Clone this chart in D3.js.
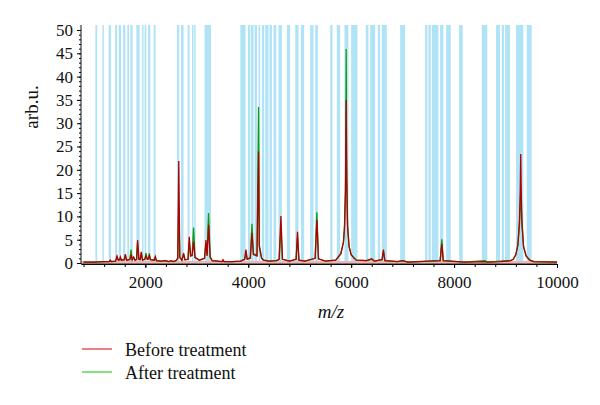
<!DOCTYPE html>
<html>
<head>
<meta charset="utf-8">
<script src="https://cdn.jsdelivr.net/npm/d3@7"></script>
<style>
  html, body { margin: 0; padding: 0; background: #fff; }
  svg { display: block; }
  svg text { font-family: "Liberation Serif", "DejaVu Serif", serif !important; fill: #111; }
</style>
</head>
<body>
<svg id="chart" width="600" height="405" font-family="Liberation Serif, serif"></svg>
<script>
// ---- data ----
const seriesNames = ["Before treatment", "After treatment"];

// light-blue marked m/z windows [start, end]
const bandStart = [1030,1165,1287,1412,1482,1567,1650,1709,1825,1936,1986,2052,2161,2615,2693,2821,2907,2950,3151,3845,3994,4052,4122,4200,4266,4330,4414,4491,4588,4751,4913,5023,5204,5301,5592,5722,5870,6000,6285,6369,6518,6596,6951,7437,7501,7567,7728,7845,8097,8538,8815,8926,8990,9204,9411];
const bandEnd   = [1065,1190,1334,1450,1528,1612,1683,1753,1889,1955,2019,2097,2200,2660,2744,2860,2935,2977,3276,3948,4039,4103,4169,4233,4311,4394,4460,4544,4654,4815,4977,5087,5268,5353,5637,5786,5947,6122,6336,6466,6563,6693,7048,7481,7547,7695,7792,7936,8169,8646,8893,8970,9087,9345,9508];

// spectrum sample points
const mz = [800,1000,1200,1300,1320,1340,1420,1450,1475,1500,1515,1535,1590,1612,1635,1700,1722,1745,1773,1800,1830,1850,1875,1900,1922,1945,1990,2013,2040,2060,2078,2100,2170,2194,2215,2300,2400,2450,2500,2550,2600,2630,2650,2670,2710,2744,2770,2830,2854,2880,2910,2938,2965,3050,3150,3178,3200,3229,3260,3300,3400,3490,3509,3530,3700,3850,3930,3955,3980,4040,4072,4100,4170,4200,4215,4233,4260,4300,4400,4550,4600,4635,4665,4800,4930,4957,4985,5100,5300,5334,5365,5500,5700,5800,5850,5870,5890,5903,5912,5930,5960,6000,6050,6100,6300,6400,6450,6600,6627,6655,6900,7000,7100,7730,7761,7790,8200,8600,8650,8900,9100,9150,9200,9240,9270,9285,9295,9305,9320,9350,9400,9470,9550,10000];
const before = [0.2,0.2,0.3,0.3,0.6,0.3,0.4,1.5,0.6,0.7,1.3,0.6,0.7,1.9,0.6,0.7,1.8,0.7,1.3,0.6,0.8,4.9,0.8,0.7,2.4,0.6,0.8,1.5,0.8,0.9,1.6,0.7,0.6,1.4,0.5,0.4,0.5,0.3,0.5,0.3,0.6,1.0,21.9,1.2,0.6,2.1,0.7,0.8,5.6,1.5,1.6,4.6,1.2,0.6,1.0,4.9,1.5,8.2,1.2,0.5,0.4,0.3,0.7,0.3,0.3,0.4,0.8,2.9,0.8,1.0,6.5,1.8,1.5,23.9,3.5,2.4,1.0,0.6,0.4,0.5,0.8,10.1,0.8,0.4,0.8,6.7,0.6,0.4,1.0,9.2,0.9,0.4,0.6,2.0,4.5,7.8,16,35,18,8,3.5,1.8,1.1,0.6,0.5,0.9,0.4,0.7,2.9,0.5,0.3,0.5,0.2,0.5,4.1,0.5,0.2,0.3,0.2,0.3,0.5,0.8,1.8,4.0,9,15,23.4,15,8,3.5,1.5,0.6,0.3,0.2];
const after  = [0.2,0.2,0.3,0.3,0.5,0.3,0.4,1.2,0.6,0.7,1.0,0.6,0.7,1.5,0.6,0.8,2.9,0.7,1.1,0.6,0.8,4.2,0.8,0.7,2.0,0.6,0.8,2.1,0.8,0.9,2.0,0.7,0.6,1.2,0.5,0.4,0.5,0.3,0.4,0.3,0.5,1.0,12,1.2,0.6,1.8,0.7,0.8,4.5,1.5,1.7,7.6,1.2,0.6,1.0,4.2,1.8,10.7,1.4,0.5,0.4,0.3,0.6,0.3,0.3,0.4,0.8,2.2,0.8,1.2,8.4,2.0,1.7,33.5,3.8,2.8,1.0,0.6,0.4,0.5,0.8,7.5,0.8,0.4,0.8,5.5,0.6,0.4,1.0,10.9,0.9,0.4,0.6,2.0,4.5,7.0,15,45.9,22.8,8,3.5,1.8,1.2,0.6,0.5,0.8,0.4,0.7,2.4,0.5,0.3,0.5,0.2,0.5,5.1,0.5,0.2,0.5,0.2,0.4,0.5,0.8,1.8,3.8,8,12,16,12,8.9,3.5,1.5,0.6,0.3,0.2];

const xTicks = [2000, 4000, 6000, 8000, 10000];
const xMinorTicks = d3.range(800, 10001, 400);
const yTicks = [0, 5, 10, 15, 20, 25, 30, 35, 40, 45, 50];
const yMinorTicks = d3.range(0, 51, 1);

// ---- drawing ----
const FONT = '"Liberation Serif", "DejaVu Serif", serif';
const svg = d3.select("#chart");
const x = d3.scaleLinear().domain([750, 10000]).range([81, 557]);
const y = d3.scaleLinear().domain([0, 50]).range([263, 30]);
const axisY = 264;
const bandTop = 25;

const beforeColor = "#b00000", afterColor = "#139a13";

// bands
svg.append("g").selectAll("rect").data(bandStart).join("rect")
  .attr("x", (d) => x(d))
  .attr("width", (d, i) => Math.max(1.5, x(bandEnd[i]) - x(d)))
  .attr("y", bandTop)
  .attr("height", axisY - bandTop)
  .attr("fill", "#a9e0f6")
  .attr("opacity", 0.9);

// pale baseline
svg.append("line")
  .attr("x1", x(750)).attr("x2", x(10000))
  .attr("y1", y(0.15)).attr("y2", y(0.15))
  .attr("stroke", "#f2b3b3").attr("stroke-width", 2.5);

const pts = mz.map((m, i) => ({ m, b: before[i], a: after[i] }));
const lineAfter = d3.line().x(d => x(d.m)).y(d => y(d.a));
const lineBefore = d3.line().x(d => x(d.m)).y(d => y(d.b));

svg.append("path").datum(pts).attr("d", lineAfter)
  .attr("fill", "none").attr("stroke", afterColor).attr("stroke-width", 1.3);
svg.append("path").datum(pts).attr("d", lineBefore)
  .attr("fill", "none").attr("stroke", beforeColor).attr("stroke-width", 1.3);

// x axis
const gx = svg.append("g").attr("transform", `translate(0,${axisY})`);
gx.call(d3.axisBottom(x).tickValues(xMinorTicks).tickSize(3).tickFormat(""))
  .call(g => g.select(".domain").remove());
gx.append("g").call(d3.axisBottom(x).tickValues(xTicks).tickSize(4).tickSizeOuter(0).tickFormat(d3.format("d")))
  .call(g => g.selectAll("text").attr("font-size", 17).attr("dy", "1.0em")
      .attr("font-family", FONT).style("font-family", FONT).attr("fill", "#111"));
gx.selectAll("g").attr("font-family", FONT);
gx.attr("font-family", FONT);
gx.append("line").attr("x1", x(750)).attr("x2", x(10000)).attr("stroke", "#111");

// y axis
const gy = svg.append("g").attr("transform", `translate(${x(750)},0)`);
gy.call(d3.axisLeft(y).tickValues(yMinorTicks).tickSize(2).tickFormat(""))
  .call(g => g.select(".domain").remove());
gy.append("g").call(d3.axisLeft(y).tickValues(yTicks).tickSize(4).tickSizeOuter(0).tickPadding(4))
  .call(g => g.selectAll("text").attr("font-size", 17)
      .attr("font-family", FONT).style("font-family", FONT).attr("fill", "#111"))
  .call(g => g.select(".domain").remove());
gy.selectAll("g").attr("font-family", FONT);
gy.attr("font-family", FONT);
gy.append("line").attr("y1", bandTop).attr("y2", axisY).attr("stroke", "#111");

// axis titles
svg.append("text")
  .attr("transform", `translate(38,107) rotate(-90)`)
  .attr("text-anchor", "middle")
  .attr("font-size", 19)
  .attr("font-family", FONT)
  .text("arb.u.");
svg.append("text")
  .attr("x", 331).attr("y", 318)
  .attr("text-anchor", "middle")
  .attr("font-size", 19)
  .attr("font-style", "italic")
  .attr("font-family", FONT)
  .text("m/z");

// legend
const legendColors = ["#e02a2a", "#2fcf2f"];
const lg = svg.append("g");
seriesNames.forEach((name, i) => {
  const yy = 349 + i * 23;
  lg.append("line").attr("x1", 82).attr("x2", 112).attr("y1", yy).attr("y2", yy)
    .attr("stroke", legendColors[i]).attr("stroke-width", 1.2);
  lg.append("text").attr("x", 125).attr("y", yy + 7)
    .attr("font-size", 18).attr("font-family", FONT).text(name);
});
</script>
</body>
</html>
